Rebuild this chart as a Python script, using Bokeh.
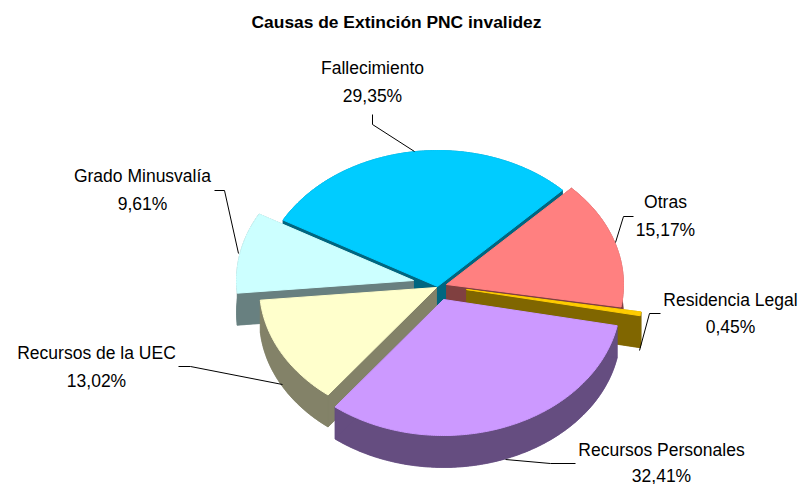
import math
from bokeh.plotting import figure
from bokeh.models import ColumnDataSource
from bokeh.core.properties import value
from bokeh.embed import file_html
from bokeh.resources import INLINE

# --- data (counter-clockwise from the start angle)
categories = ["Otras", "Fallecimiento", "Grado Minusvalía", "Recursos de la UEC", "Recursos Personales", "Residencia Legal"]
percents = [15.17, 29.35, 9.61, 13.02, 32.41, 0.45]
percent_labels = ["15,17%", "29,35%", "9,61%", "13,02%", "32,41%", "0,45%"]
top_colors = ["#FF8080", "#00CCFF", "#CCFFFF", "#FFFFCC", "#CC99FF", "#FFCC00"]
side_colors = ["#804040", "#006680", "#688080", "#838268", "#654D80", "#806600"]

# --- layout (screen pixels)
centers = [(446, 284), (437, 286), (413, 280), (436, 287), (443, 299), (466, 289)]
RX, RY, DEPTH = 177, 136, 32
START = -9.5
draw_order = [1, 2, 0, 5, 3, 4]
label_pos = [(665, 201, 229), (372, 67, 95), (142, 175, 203), (96, 352, 380), (661, 449, 475), (730, 299, 326)]
leaders = [
    [(633, 216), (623, 216), (615, 242)],
    [(372, 114), (372, 124), (414, 151)],
    [(214, 190), (224, 190), (238, 253)],
    [(178, 366), (190, 366), (282, 384)],
    [(575, 463), (550, 463), (505, 459)],
    [(660, 313), (649, 313), (639, 350)],
]

p = figure(width=798, height=484, x_range=(0, 798), y_range=(484, 0),
           toolbar_location=None, output_backend="svg", min_border=0,
           outline_line_color=None, background_fill_color="white", border_fill_color="white")
p.axis.visible = False
p.grid.visible = False

# angles from the values
total = sum(percents)
spans = []
a = START
for v in percents:
    b = a + v / total * 360.0
    spans.append((a, b))
    a = b

def arc_pts(c, a0, a1, dy=0):
    n = max(3, int(abs(a1 - a0) * 1.5))
    return [(c[0] + RX * math.cos(math.radians(a0 + (a1 - a0) * i / n)),
             c[1] - RY * math.sin(math.radians(a0 + (a1 - a0) * i / n)) + dy) for i in range(n + 1)]

def add_poly(pts, color, lw=0.5):
    xs = [q[0] for q in pts]
    ys = [q[1] for q in pts]
    p.patch(xs, ys, fill_color=color, line_color=color, line_width=lw)

for i in draw_order:
    c = centers[i]
    a0, a1 = spans[i]
    arc = arc_pts(c, a0, a1)
    low = arc_pts(c, a0, a1, DEPTH)
    add_poly([(c[0], c[1] + DEPTH)] + low, side_colors[i])
    add_poly(arc + low[::-1], side_colors[i])
    for e in (arc[0], arc[-1]):
        add_poly([c, e, (e[0], e[1] + DEPTH), (c[0], c[1] + DEPTH)], side_colors[i])
    add_poly([c] + arc, top_colors[i], lw=1)

for pts in leaders:
    p.line([q[0] for q in pts], [q[1] for q in pts], line_color="black", line_width=1)

FONT = value("Liberation Sans")
names_src = ColumnDataSource(dict(x=[q[0] for q in label_pos], y=[q[1] for q in label_pos], t=categories))
pct_src = ColumnDataSource(dict(x=[q[0] for q in label_pos], y=[q[2] for q in label_pos], t=percent_labels))
for s in (names_src, pct_src):
    p.text("x", "y", text="t", source=s, text_font=FONT, text_font_size="17.5px",
           text_align="center", text_baseline="middle", text_color="black")
p.text([396], [21], text=["Causas de Extinción PNC invalidez"], text_font=FONT, text_font_size="17.4px",
       text_font_style="bold", text_align="center", text_baseline="middle", text_color="black")

open("out.html", "w").write(file_html(p, INLINE))
